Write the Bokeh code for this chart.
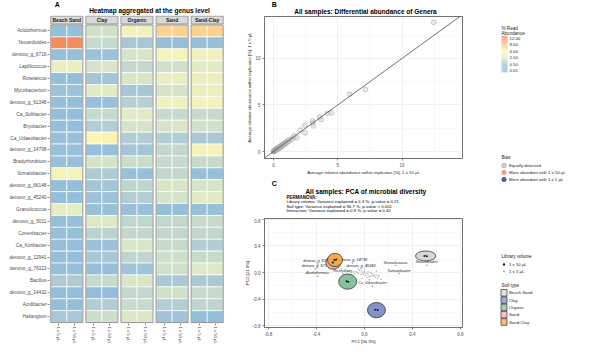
import numpy as np
from bokeh.plotting import figure
from bokeh.models import (Range1d, FixedTicker, ColumnDataSource, LinearColorMapper,
                          Slope, PrintfTickFormatter)
from bokeh.layouts import row, column
from bokeh.embed import file_html
from bokeh.resources import INLINE
from bokeh.core.properties import value

FONT = "Liberation Sans"
F = value(FONT)

# ---------------- data ----------------
genera = ["Acidothermus", "Nocardioides", "denovo_g_6716", "Lapillicoccus", "Roseiarcus",
          "Mycobacterium", "denovo_g_61348", "Ca_Solibacter", "Bryobacter", "Ca_Udaeobacter",
          "denovo_g_14798", "Bradyrhizobium", "Ilumatobacter", "denovo_g_66148", "denovo_g_45240",
          "Granulicoccus", "denovo_g_5011", "Conexibacter", "Ca_Koribacter", "denovo_g_12941",
          "denovo_g_76113", "Bacillus", "denovo_g_14432", "Acidibacter", "Haliangium"]
soils = ["Beach Sand", "Clay", "Organic", "Sand", "Sand-Clay"]
volumes = ["1 x 5 µL", "1 x 50 µL"]
# columns: BS 5, BS 50, Clay 5, Clay 50, Org 5, Org 50, Sand 5, Sand 50, SC 5, SC 50
heat_values = [
    [0.12, 0.12, 1.3, 1.3, 3.0, 3.0, 7.0, 7.2, 7.0, 7.3],
    [12.5, 12.3, 1.0, 1.0, 0.35, 0.35, 0.12, 0.12, 0.15, 0.15],
    [0.12, 0.12, 0.2, 0.2, 1.5, 1.6, 3.5, 3.6, 3.0, 3.0],
    [2.6, 2.6, 1.5, 1.6, 0.9, 0.9, 1.3, 1.3, 2.0, 2.0],
    [0.1, 0.1, 0.3, 0.3, 1.6, 1.6, 2.6, 2.5, 2.6, 2.6],
    [0.2, 0.2, 2.0, 2.0, 0.35, 0.35, 1.4, 1.4, 2.5, 2.5],
    [0.1, 0.1, 0.15, 0.15, 0.6, 0.6, 3.0, 3.0, 3.2, 3.2],
    [0.1, 0.1, 1.0, 1.0, 2.0, 2.0, 1.0, 1.0, 1.0, 1.0],
    [0.1, 0.1, 0.5, 0.5, 1.5, 1.5, 1.5, 1.7, 1.3, 1.3],
    [0.15, 0.15, 4.0, 4.3, 0.5, 0.5, 0.5, 0.5, 0.4, 0.4],
    [0.12, 0.12, 0.12, 0.12, 0.3, 0.3, 0.9, 0.9, 3.2, 3.2],
    [0.15, 0.15, 1.5, 1.5, 1.1, 1.1, 1.0, 1.0, 1.0, 1.0],
    [3.6, 3.6, 0.45, 0.45, 0.15, 0.15, 0.9, 0.9, 0.15, 0.15],
    [0.1, 0.1, 0.3, 0.3, 0.8, 0.8, 1.6, 1.6, 1.5, 1.5],
    [0.1, 0.1, 0.2, 0.2, 0.5, 0.5, 1.5, 1.5, 2.0, 2.0],
    [2.3, 2.2, 0.15, 0.15, 0.15, 0.15, 0.12, 0.12, 0.15, 0.15],
    [0.15, 0.15, 1.8, 1.8, 0.8, 0.8, 0.9, 0.9, 1.0, 1.0],
    [0.12, 0.12, 0.7, 0.7, 0.9, 0.9, 0.9, 0.9, 0.9, 0.9],
    [0.12, 0.12, 0.2, 0.2, 1.6, 1.6, 1.0, 1.0, 0.5, 0.5],
    [0.1, 0.1, 0.35, 0.35, 0.8, 0.8, 1.2, 1.2, 1.0, 1.0],
    [0.12, 0.12, 0.12, 0.12, 0.25, 0.25, 1.3, 1.3, 1.8, 1.8],
    [0.45, 0.45, 1.0, 1.0, 1.6, 1.6, 0.4, 0.4, 0.4, 0.4],
    [0.1, 0.1, 0.08, 0.08, 0.9, 0.9, 1.3, 1.3, 1.0, 1.0],
    [0.1, 0.1, 0.5, 0.5, 1.0, 1.0, 0.5, 0.5, 0.8, 0.8],
    [0.35, 0.35, 1.2, 1.2, 1.7, 1.7, 0.25, 0.25, 0.1, 0.1],
]
cbar_ticks = [12.00, 8.00, 4.00, 2.00, 0.50, 0.01]
cbar_labels = ["12.00", "8.00", "4.00", "2.00", "0.50", "0.01"]

# Panel B: average relative abundance (%) per genus
b_x = [0.0, 0.02, 0.04, 0.05, 0.07, 0.09, 0.1, 0.12, 0.14, 0.16, 0.18, 0.2, 0.22, 0.25, 0.28,
       0.3, 0.33, 0.36, 0.4, 0.42, 0.46, 0.5, 0.53, 0.57, 0.62, 0.66, 0.7, 0.75, 0.8, 0.86,
       0.92, 0.98, 1.05, 1.12, 1.2, 1.3, 1.42, 1.55, 1.62, 1.82, 2.08, 2.44, 2.46, 3.05, 3.05,
       3.1, 3.6, 3.7, 4.2, 4.5, 5.92, 7.15, 12.46]
b_y = [0.02, 0.0, 0.06, 0.03, 0.1, 0.05, 0.14, 0.1, 0.18, 0.12, 0.22, 0.16, 0.26, 0.2, 0.32,
       0.24, 0.38, 0.3, 0.34, 0.46, 0.4, 0.52, 0.44, 0.6, 0.55, 0.72, 0.62, 0.8, 0.7, 0.9,
       0.84, 1.02, 0.94, 1.18, 1.1, 1.28, 1.32, 1.46, 1.68, 1.5, 2.3, 2.83, 2.0, 3.26, 3.05,
       2.76, 3.7, 3.44, 4.1, 4.16, 6.16, 6.67, 13.87]
bias_labels = ["Equally detected", "More abundant with 1 x 50 µL", "More abundant with 1 x 5 µL"]

# Panel C: PCA
pca_gx = [-0.19, -0.16, -0.14, -0.12, -0.11, -0.09, -0.08, -0.07, -0.06, -0.05,
          -0.04, -0.03, -0.02, -0.01, 0.0, 0.0, 0.01, 0.02, 0.03, 0.03,
          0.04, 0.05, 0.06, 0.07, 0.08, 0.09, 0.1, 0.11, 0.12, 0.14,
          0.02, -0.02, 0.05, 0.0, -0.05, 0.08, 0.1, 0.04]
pca_gy = [0.05, 0.04, 0.02, 0.03, 0.0, 0.01, -0.02, 0.02, 0.0, -0.01,
          0.03, -0.03, 0.01, -0.02, 0.0, 0.02, -0.04, -0.01, 0.01, -0.03,
          -0.06, 0.0, -0.02, -0.05, -0.03, -0.07, -0.04, -0.08, -0.05, -0.1,
          -0.07, -0.09, -0.06, 0.04, 0.05, -0.05, 0.02, -0.11]
pca_lab = ["denovo_g_61348", "denovo_g_14798", "denovo_g_6716", "Acidothermus", "denovo_g_45240",
           "Roseiarcus", "Granulicoccus", "Ilumatobacter", "Ca_Udaeobacter", "Nocardioides"]
pca_lx = [-0.39, -0.10, -0.41, -0.39, -0.03, -0.18, 0.26, 0.29, 0.067, 0.52]
pca_ly = [0.13, 0.145, 0.055, -0.055, 0.055, -0.015, 0.105, -0.015, -0.205, 0.11]
ell_x = [0.51, 0.10, -0.14, -0.26, -0.245]
ell_y = [0.25, -0.565, -0.136, 0.15, 0.19]
ell_w = [0.17, 0.15, 0.15, 0.125, 0.125]
ell_h = [0.15, 0.23, 0.23, 0.2, 0.2]
samp_x50 = [0.50, 0.52, 0.09, 0.11, -0.15, -0.135, -0.265, -0.25, -0.235]
samp_y50 = [0.25, 0.245, -0.56, -0.565, -0.13, -0.14, 0.15, 0.19, 0.195]
samp_x5 = [0.51, 0.10, -0.14, -0.255, -0.245]
samp_y5 = [0.26, -0.57, -0.135, 0.145, 0.185]
perm_lines = ["Library volume: Variance explained = 0.3 %, p-value  = 0.21",
              "Soil type: Variance explained = 94.7 %, p-value  < 0.001",
              "Interaction: Variance explained = 0.9 %, p-value  = 0.42"]
lib_labels = ["1 x 50 µL", "1 x 5 µL"]

# ---------------- styles ----------------
soil_colors = ["#d6d6d6", "#7d8cc6", "#80bf9a", "#f6a8a0", "#f5a940"]
bias_colors = ["#d0d0d0", "#f2a09c", "#4f5ea8"]
stops_v = [0.01, 0.25, 0.5, 1.0, 2.0, 4.0, 8.0, 12.0]
stops_c = ["#8ab8dc", "#9fc3d8", "#b2cdd3", "#c7dbcc", "#e2ecc4", "#fbf5b6", "#fdca8b", "#f88b5b"]


def hex2rgb(h):
    return [int(h[i:i + 2], 16) for i in (1, 3, 5)]


sv_stops = np.sqrt(stops_v)
rgb = np.array([hex2rgb(c) for c in stops_c], dtype=float)
tt = np.linspace(sv_stops[0], sv_stops[-1], 256)
palette = []
for t in tt:
    r, g, b = (np.interp(t, sv_stops, rgb[:, k]) for k in range(3))
    palette.append("#%02x%02x%02x" % (int(round(r)), int(round(g)), int(round(b))))
LOW, HIGH = float(sv_stops[0]), float(sv_stops[-1])
mapper = LinearColorMapper(palette=palette, low=LOW, high=HIGH)


def blank(w, h):
    """A figure used as a plain canvas: 1 unit = 1 px, y grows downwards."""
    p = figure(width=w, height=h, x_range=Range1d(0, w), y_range=Range1d(h, 0),
               output_backend="svg", toolbar_location=None, title=None, min_border=0)
    p.axis.visible = False
    p.grid.visible = False
    p.outline_line_color = None
    return p


def htext(p, x, y, text, size, bold=False, align="left"):
    p.text(x=[x], y=[y], text=[text], text_font=F, text_font_size=size,
           text_font_style="bold" if bold else "normal", text_align=align,
           text_baseline="middle", text_color="#000000")


def style_xy(p):
    for ax in (p.xaxis, p.yaxis):
        ax.axis_line_color = None
        ax.major_tick_line_color = "#333333"
        ax.major_tick_line_width = 0.6
        ax.major_tick_out = 2
        ax.major_tick_in = 0
        ax.minor_tick_line_color = None
        ax.major_label_text_font = FONT
        ax.major_label_text_font_size = "4.5px"
        ax.major_label_text_color = "#4d4d4d"
        ax.major_label_standoff = 0
        ax.axis_label_text_font = FONT
        ax.axis_label_text_font_size = "4.3px"
        ax.axis_label_text_font_style = "normal"
        ax.axis_label_text_color = "#1a1a1a"
        ax.axis_label_standoff = 0
    p.outline_line_color = "#4d4d4d"
    p.outline_line_width = 0.8
    p.grid.grid_line_color = "#e6e6e6"
    p.grid.grid_line_width = 0.6
    p.grid.minor_grid_line_color = "#f0f0f0"
    p.grid.minor_grid_line_width = 0.4


# ---------------- Panel A: heatmap ----------------
GAP = 0.1875
nrow = len(genera)
hx, hy, hv = [], [], []
for i, g in enumerate(genera):
    for j, v in enumerate(heat_values[i]):
        s, k = divmod(j, 2)
        hx.append(s * (2 + GAP) + k + 0.5)
        hy.append(nrow - 1 - i)
        hv.append(v)
srcA = ColumnDataSource(dict(x=hx, y=hy, v=hv, sv=list(np.sqrt(hv))))
pcx = [s * (2 + GAP) + 1 for s in range(len(soils))]
strip_y = nrow - 0.5 + 1 / 12 + 0.335

A_W, A_HEAD = 238, 15
A_H, A_L, A_R, A_B = 346 - A_HEAD, 49, 14, 22
hA = blank(A_W, A_HEAD)
htext(hA, 7, 4, "A", "7px", bold=True)
htext(hA, 136, 9.5, "Heatmap aggregated at the genus level", "6.5px", bold=True, align="center")

pA = figure(width=A_W, height=A_H, x_range=Range1d(-0.08, 10.83), y_range=Range1d(-0.58, 25.3),
            output_backend="svg", toolbar_location=None, title=None, min_border_left=A_L,
            min_border_right=A_R, min_border_top=0, min_border_bottom=A_B)
pA.outline_line_color = None
pA.grid.visible = False
pA.rect(x="x", y="y", width=1, height=1, source=srcA,
        fill_color={"field": "sv", "transform": mapper}, line_color="white", line_width=0.7)
pA.rect(x=pcx, y=[(nrow - 1) / 2] * len(soils), width=2, height=nrow, fill_color=None,
        line_color="#8a8a8a", line_width=0.9)
pA.rect(x=pcx, y=[strip_y] * len(soils), width=2, height=0.67, fill_color="#d9d9d9",
        line_color="#8a8a8a", line_width=0.8)
pA.text(x=pcx, y=[strip_y] * len(soils), text=soils, text_font=F, text_font_size="5px",
        text_font_style="bold", text_align="center", text_baseline="middle", text_color="#1a1a1a")
colc = sorted(set(hx))
pA.xaxis.ticker = FixedTicker(ticks=colc)
pA.xaxis.major_label_overrides = {c: volumes[n % 2] for n, c in enumerate(colc)}
pA.xaxis.major_label_orientation = "vertical"
pA.yaxis.ticker = FixedTicker(ticks=list(range(nrow)))
pA.yaxis.major_label_overrides = {nrow - 1 - i: g for i, g in enumerate(genera)}
for ax in (pA.xaxis, pA.yaxis):
    ax.axis_line_color = None
    ax.major_tick_line_color = "#333333"
    ax.major_tick_line_width = 0.6
    ax.major_tick_out = 2
    ax.major_tick_in = 0
    ax.minor_tick_line_color = None
    ax.major_label_text_font = FONT
    ax.major_label_text_color = "#4d4d4d"
    ax.major_label_standoff = 1
pA.yaxis.major_label_text_font_size = "4.8px"
pA.xaxis.major_label_text_font_size = "4.2px"

# ---------------- Panel B: scatter ----------------
M_W = 244
B_HEAD = 16
B_H, B_L, B_R, B_B = 162, 25, 20, 20
hB = blank(M_W, B_HEAD)
htext(hB, 9, 4, "B", "7px", bold=True)
htext(hB, 124.5, 10.5, "All samples: Differential abundance of Genera", "6.5px", bold=True, align="center")

pB = figure(width=M_W, height=B_H, x_range=Range1d(-0.7, 14.7), y_range=Range1d(-0.75, 14.5),
            output_backend="svg", toolbar_location=None, title=None, min_border_left=B_L,
            min_border_right=B_R, min_border_top=0, min_border_bottom=B_B)
tkB = FixedTicker(ticks=[0, 5, 10], minor_ticks=[2.5, 7.5, 12.5])
pB.xaxis.ticker = tkB
pB.yaxis.ticker = tkB
style_xy(pB)
pB.xaxis.axis_label = "Average relative abundance within replicates [%], 1 x 50 µL"
pB.yaxis.axis_label = "Average relative abundance within replicates [%], 1 x 5 µL"
pB.add_layout(Slope(gradient=1, y_intercept=0, line_color="#333333", line_width=0.7))
pB.scatter(b_x, b_y, size=4.8, fill_color=bias_colors[0], fill_alpha=0.45,
           line_color="#9a9a9a", line_alpha=0.8, line_width=0.6)

# ---------------- Panel C: PCA ----------------
C_HEAD = 40
C_H, C_L, C_R, C_B = 346 - B_HEAD - B_H - C_HEAD, 26, 20, 15
hC = blank(M_W, C_HEAD)
htext(hC, 9, 5, "C", "7px", bold=True)
htext(hC, 125, 13, "All samples: PCA of microbial diversity", "6.5px", bold=True, align="center")
htext(hC, 27, 19, "PERMANOVA:", "4.5px", bold=True)
for n, line in enumerate(perm_lines):
    htext(hC, 27, 23.2 + 4.3 * n, line, "4.3px")

pC = figure(width=M_W, height=C_H, x_range=Range1d(-0.833, 0.817), y_range=Range1d(-0.827, 0.814),
            output_backend="svg", toolbar_location=None, title=None, min_border_left=C_L,
            min_border_right=C_R, min_border_top=0, min_border_bottom=C_B)
tkC = FixedTicker(ticks=[-0.8, -0.4, 0.0, 0.4, 0.8], minor_ticks=[-0.6, -0.2, 0.2, 0.6])
pC.xaxis.ticker = tkC
pC.yaxis.ticker = tkC
pC.xaxis.formatter = PrintfTickFormatter(format="%.1f")
pC.yaxis.formatter = PrintfTickFormatter(format="%.1f")
style_xy(pC)
pC.xaxis.axis_label = "PC1 [56.3%]"
pC.yaxis.axis_label = "PC2 [21.0%]"
pC.scatter(pca_gx, pca_gy, size=1.6, fill_color="#b5b5b5", line_color=None)
pC.scatter(pca_lx, pca_ly, size=1.4, fill_color="#8a8a8a", line_color=None)
pC.text(x=pca_lx, y=pca_ly, text=pca_lab, text_font=F, text_font_size="3.8px",
        text_font_style="italic", text_align="center", text_baseline="bottom",
        y_offset=-1, text_color="#262626")
pC.ellipse(x=ell_x, y=ell_y, width=ell_w, height=ell_h, fill_color=soil_colors,
           fill_alpha=0.95, line_color="#222222", line_width=0.7)
pC.scatter(samp_x5, samp_y5, size=1.8, fill_color="#9a9a9a", line_color=None)
pC.scatter(samp_x50, samp_y50, size=2.0, fill_color="#1a1a1a", line_color=None)

# ---------------- Legends column ----------------
LW, LH = 97, 346
pL = blank(LW, LH)

LX = 19          # legend left (px inside legend column)
GX = LX + 2.5    # key centre
TX = LX + 7.5    # label start


def leg_title(y, text):
    pL.text(x=[LX], y=[y], text=[text], text_font=F, text_font_size="4.6px",
            text_baseline="middle", text_color="#1a1a1a")


def leg_labels(ys, labels, x=TX):
    pL.text(x=[x] * len(ys), y=ys, text=labels, text_font=F, text_font_size="4.3px",
            text_baseline="middle", text_color="#1a1a1a")


# colour bar (sqrt scale), drawn through the heatmap colour mapper
CB_TOP, CB_BOT, CB_W = 37.5, 69.5, 6      # tick span in px
leg_title(28, "% Read")
leg_title(32.5, "Abundance")
span = HIGH - LOW
pad = 2.0 * span / (CB_BOT - CB_TOP)
sv_bar = np.linspace(LOW - pad, HIGH + pad, 72)
y_bar = [CB_BOT - (s - LOW) / span * (CB_BOT - CB_TOP) for s in sv_bar]
hstep = (CB_BOT - CB_TOP + 4) / (len(sv_bar) - 1)
srcBar = ColumnDataSource(dict(x=[LX + CB_W / 2] * len(sv_bar), y=y_bar, sv=list(sv_bar)))
pL.rect(x="x", y="y", width=CB_W, height=hstep * 1.15, source=srcBar,
        fill_color={"field": "sv", "transform": mapper}, line_color=None)
y_tk = [CB_BOT - (np.sqrt(v) - LOW) / span * (CB_BOT - CB_TOP) for v in cbar_ticks]
pL.segment(x0=[LX] * len(y_tk), x1=[LX + 1.3] * len(y_tk), y0=y_tk, y1=y_tk,
           line_color="white", line_width=0.6)
pL.segment(x0=[LX + CB_W - 1.3] * len(y_tk), x1=[LX + CB_W] * len(y_tk), y0=y_tk, y1=y_tk,
           line_color="white", line_width=0.6)
leg_labels(y_tk, cbar_labels, x=LX + CB_W + 2)

# Bias
bias_top = 157
leg_title(bias_top, "Bias")
by = [bias_top + 8 + 7 * i for i in range(len(bias_labels))]
pL.scatter([GX] * 3, by, size=4.5, fill_color=bias_colors, line_color=["#9a9a9a", "#d88a86", "#3a4890"],
           line_width=0.6)
leg_labels(by, bias_labels)

# Library volume
lib_top = 256
leg_title(lib_top, "Library volume")
ly = [lib_top + 8 + 7 * i for i in range(len(lib_labels))]
pL.scatter([GX] * 2, ly, size=[2.4, 1.8], fill_color=["#1a1a1a", "#9a9a9a"], line_color=None)
leg_labels(ly, lib_labels)

# Soil type
soil_top = 285
leg_title(soil_top, "Soil type")
sy = [soil_top + 7.3 + 7.3 * i for i in range(len(soils))]
pL.rect(x=[GX] * len(soils), y=sy, width=6, height=6.6, fill_color=soil_colors, fill_alpha=0.75,
        line_color="#333333", line_width=0.7)
leg_labels(sy, soils)

layout = row(column(hA, pA), column(hB, pB, hC, pC), pL)
open("out.html", "w").write(file_html(layout, INLINE))
